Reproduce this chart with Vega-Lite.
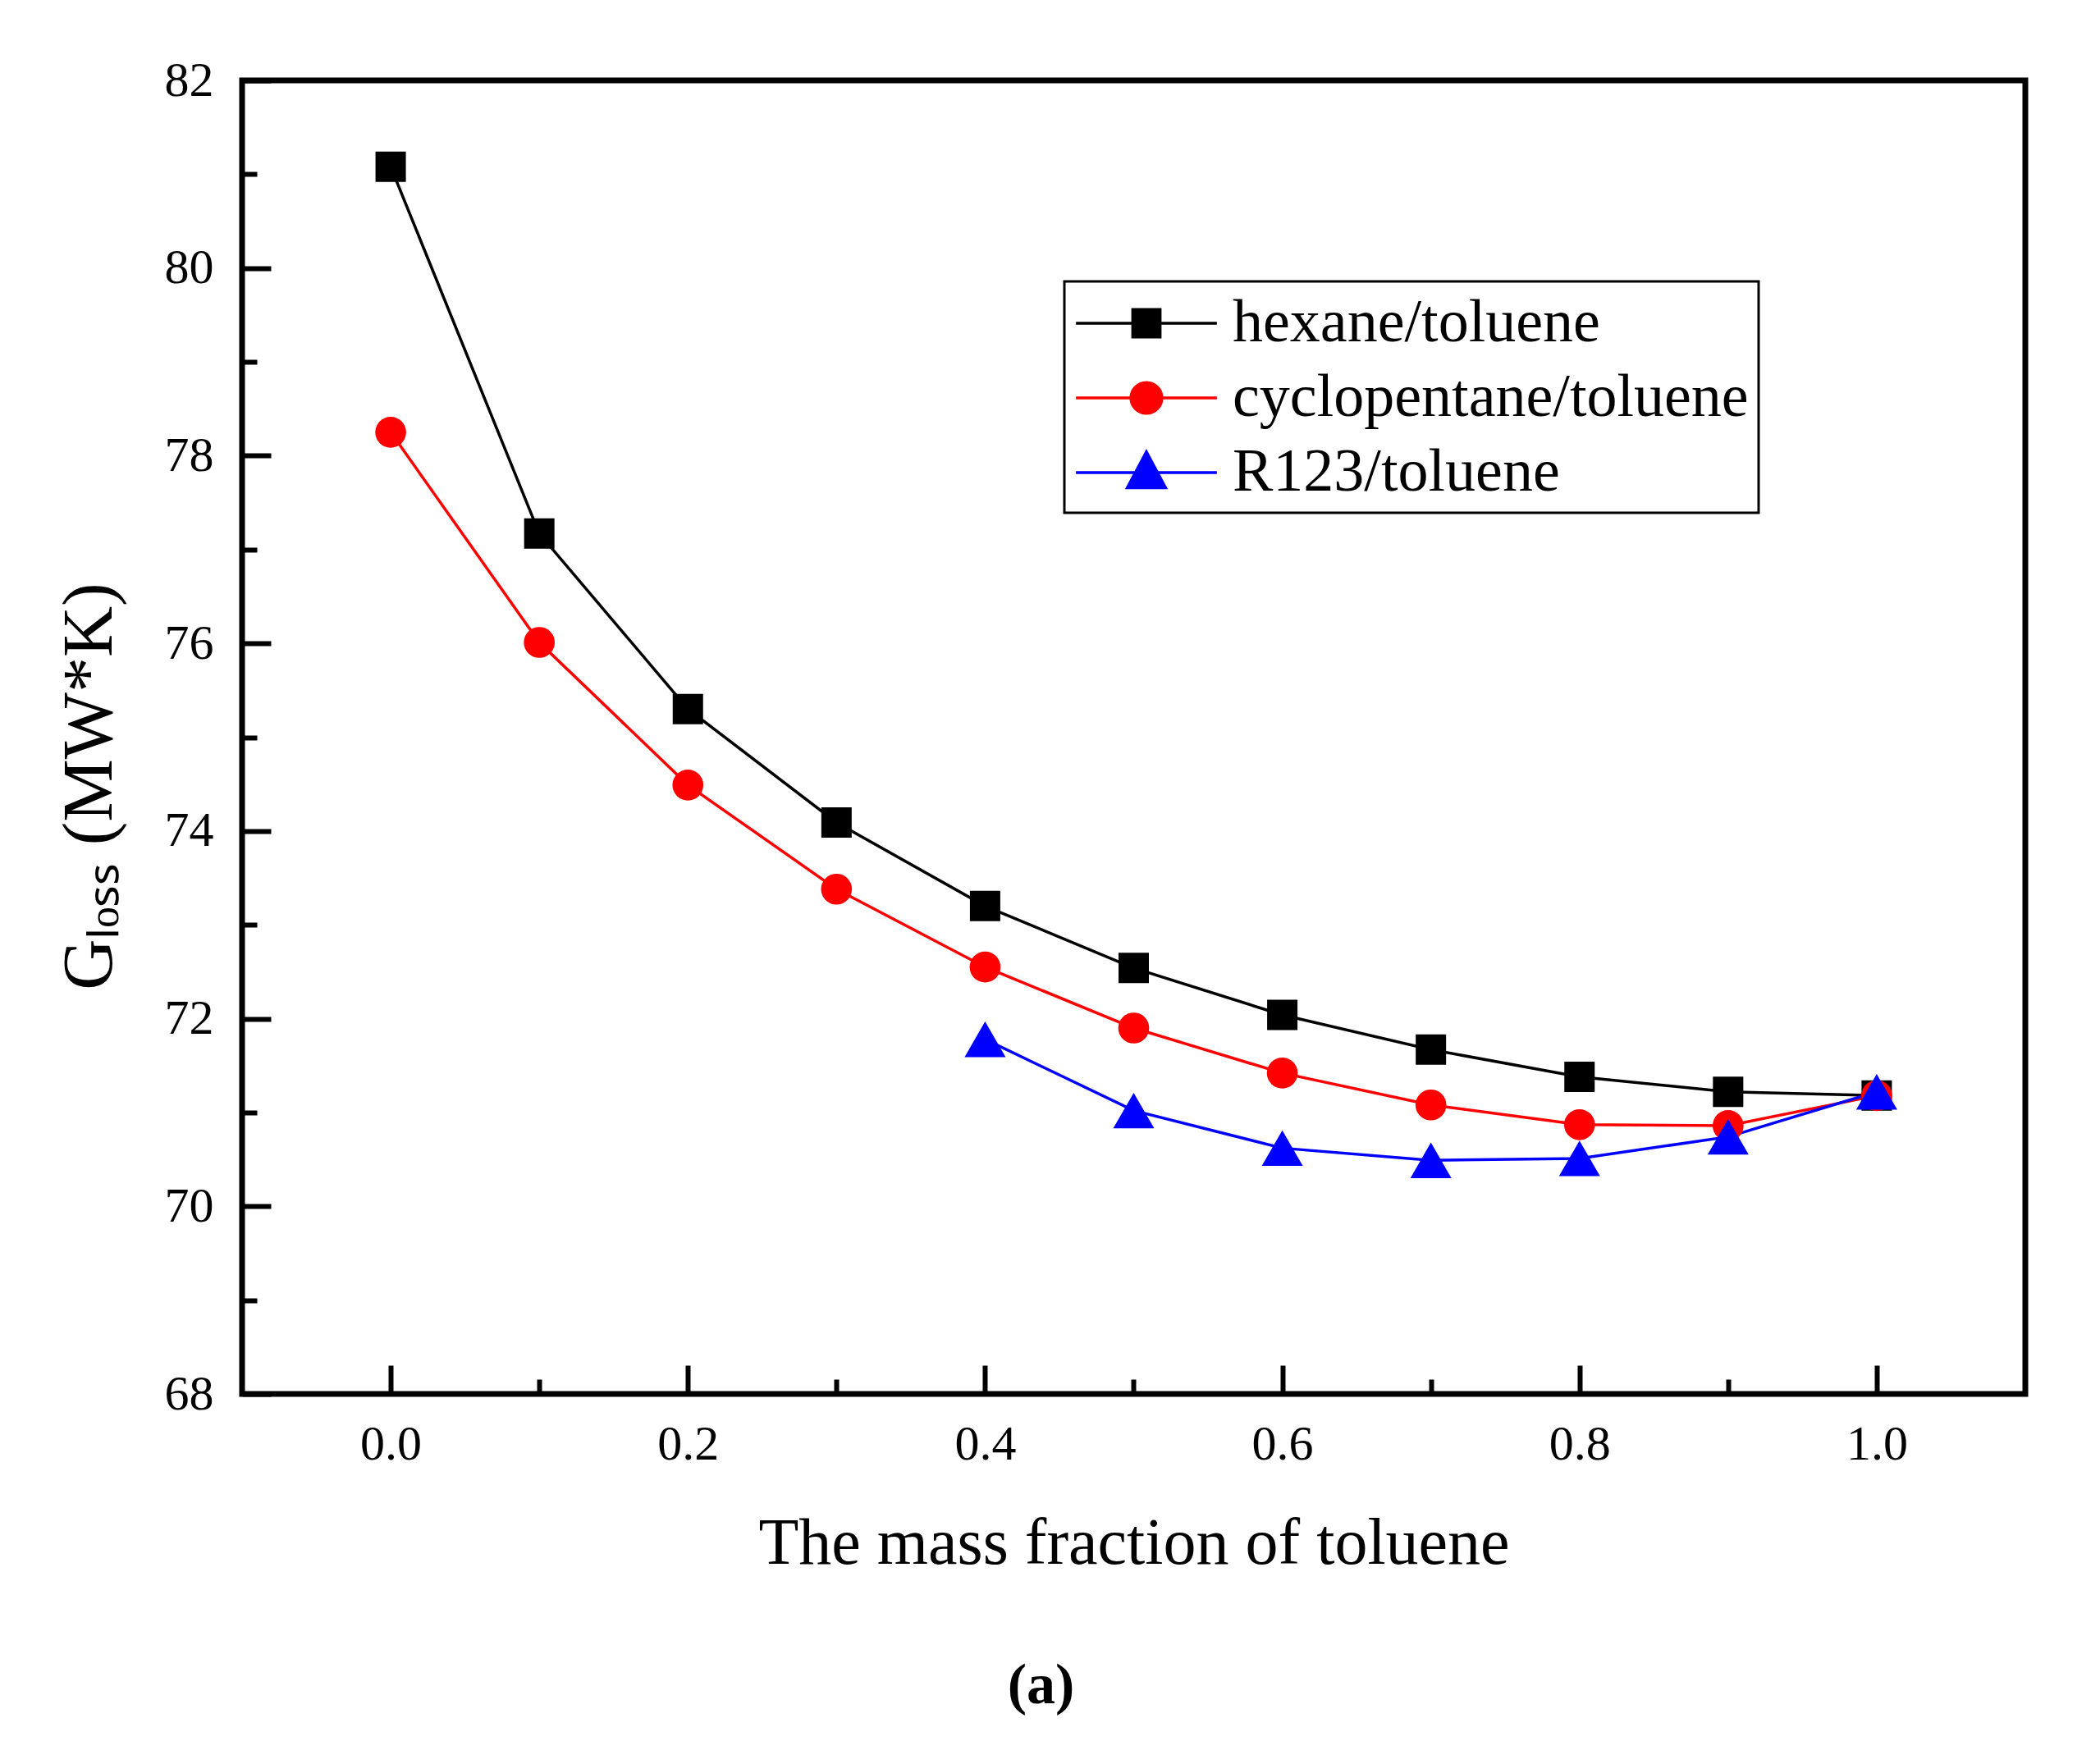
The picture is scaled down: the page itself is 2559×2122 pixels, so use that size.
{
  "$schema": "https://vega.github.io/schema/vega-lite/v6.json",
  "autosize": "none",
  "width": 2173,
  "height": 1601,
  "padding": {"left": 295, "top": 98, "right": 91, "bottom": 423},
  "background": "white",
  "title": {
    "text": "(a)",
    "orient": "bottom",
    "anchor": "middle",
    "font": "Liberation Serif",
    "fontSize": 70,
    "fontWeight": "bold",
    "color": "black",
    "offset": 100,
    "dx": -113
  },
  "data": {
    "values": [
      {"x": 0.0, "y": 81.08, "series": "hexane/toluene"},
      {"x": 0.1, "y": 77.17, "series": "hexane/toluene"},
      {"x": 0.2, "y": 75.30, "series": "hexane/toluene"},
      {"x": 0.3, "y": 74.09, "series": "hexane/toluene"},
      {"x": 0.4, "y": 73.20, "series": "hexane/toluene"},
      {"x": 0.5, "y": 72.54, "series": "hexane/toluene"},
      {"x": 0.6, "y": 72.04, "series": "hexane/toluene"},
      {"x": 0.7, "y": 71.67, "series": "hexane/toluene"},
      {"x": 0.8, "y": 71.38, "series": "hexane/toluene"},
      {"x": 0.9, "y": 71.22, "series": "hexane/toluene"},
      {"x": 1.0, "y": 71.18, "series": "hexane/toluene"},
      {"x": 0.0, "y": 78.25, "series": "cyclopentane/toluene"},
      {"x": 0.1, "y": 76.01, "series": "cyclopentane/toluene"},
      {"x": 0.2, "y": 74.49, "series": "cyclopentane/toluene"},
      {"x": 0.3, "y": 73.38, "series": "cyclopentane/toluene"},
      {"x": 0.4, "y": 72.55, "series": "cyclopentane/toluene"},
      {"x": 0.5, "y": 71.90, "series": "cyclopentane/toluene"},
      {"x": 0.6, "y": 71.42, "series": "cyclopentane/toluene"},
      {"x": 0.7, "y": 71.08, "series": "cyclopentane/toluene"},
      {"x": 0.8, "y": 70.87, "series": "cyclopentane/toluene"},
      {"x": 0.9, "y": 70.86, "series": "cyclopentane/toluene"},
      {"x": 1.0, "y": 71.18, "series": "cyclopentane/toluene"},
      {"x": 0.4, "y": 71.78, "series": "R123/toluene"},
      {"x": 0.5, "y": 71.02, "series": "R123/toluene"},
      {"x": 0.6, "y": 70.62, "series": "R123/toluene"},
      {"x": 0.7, "y": 70.49, "series": "R123/toluene"},
      {"x": 0.8, "y": 70.51, "series": "R123/toluene"},
      {"x": 0.9, "y": 70.74, "series": "R123/toluene"},
      {"x": 1.0, "y": 71.22, "series": "R123/toluene"}
    ]
  },
  "layer": [
    {
      "mark": {"type": "line", "strokeWidth": 3.5},
      "encoding": {
        "x": {
          "field": "x",
          "type": "quantitative",
          "scale": {"domain": [-0.1, 1.1], "nice": false, "zero": false},
          "axis": {
            "orient": "bottom",
            "title": "The mass fraction of toluene",
            "values": [0, 0.2, 0.4, 0.6, 0.8, 1.0],
            "format": ".1f",
            "tickSize": -35,
            "labelPadding": 67,
            "titleY": 206,
            "titleBaseline": "alphabetic"
          }
        },
        "y": {
          "field": "y",
          "type": "quantitative",
          "scale": {"domain": [68, 82], "nice": false, "zero": false},
          "axis": {
            "orient": "left",
            "title": "Gₗₒₛₛ (MW*K)",
            "values": [68, 70, 72, 74, 76, 78, 80, 82],
            "tickSize": -35,
            "labelPadding": 70,
            "titleFontSize": 86,
            "titleX": -160,
            "titleY": 860,
            "titleAngle": 270,
            "titleAlign": "center",
            "titleBaseline": "alphabetic"
          }
        },
        "detail": {"field": "series"},
        "color": {
          "condition": [
            {"test": "datum.series === 'hexane/toluene'", "value": "#000000"},
            {"test": "datum.series === 'cyclopentane/toluene'", "value": "#ff0000"}
          ],
          "value": "#0000ff"
        }
      }
    },
    {
      "mark": {"type": "point", "filled": true, "opacity": 1},
      "encoding": {
        "x": {
          "field": "x",
          "type": "quantitative",
          "axis": {
            "orient": "bottom",
            "title": null,
            "labels": false,
            "values": [0.1, 0.3, 0.5, 0.7, 0.9],
            "tickSize": -18
          }
        },
        "y": {
          "field": "y",
          "type": "quantitative",
          "axis": {
            "orient": "left",
            "title": null,
            "labels": false,
            "values": [69, 71, 73, 75, 77, 79, 81],
            "tickSize": -18
          }
        },
        "color": {
          "condition": [
            {"test": "datum.series === 'hexane/toluene'", "value": "#000000"},
            {"test": "datum.series === 'cyclopentane/toluene'", "value": "#ff0000"}
          ],
          "value": "#0000ff"
        },
        "shape": {
          "condition": [
            {"test": "datum.series === 'hexane/toluene'", "value": "square"},
            {"test": "datum.series === 'cyclopentane/toluene'", "value": "circle"}
          ],
          "value": "triangle-up"
        },
        "size": {
          "condition": [
            {"test": "datum.series === 'hexane/toluene'", "value": 1369},
            {"test": "datum.series === 'cyclopentane/toluene'", "value": 1420}
          ],
          "value": 2500
        }
      }
    },
    {
      "transform": [{"filter": "false"}],
      "mark": {"type": "point", "filled": true},
      "encoding": {
        "fill": {
          "field": "series",
          "type": "nominal",
          "scale": {
            "domain": ["hexane/toluene", "cyclopentane/toluene", "R123/toluene"],
            "range": ["#000000", "#ff0000", "#0000ff"]
          },
          "legend": {"title": null}
        },
        "stroke": {
          "field": "series",
          "type": "nominal",
          "scale": {
            "domain": ["hexane/toluene", "cyclopentane/toluene", "R123/toluene"],
            "range": ["#000000", "#ff0000", "#0000ff"]
          },
          "legend": {"title": null}
        },
        "shape": {
          "field": "series",
          "type": "nominal",
          "scale": {
            "domain": ["hexane/toluene", "cyclopentane/toluene", "R123/toluene"],
            "range": [
              "M-2.32,0H2.32M-0.45,-0.45H0.45V0.45H-0.45Z",
              "M-2.32,0H2.32M0.51,0A0.51,0.51,0,1,1,-0.51,0A0.51,0.51,0,1,1,0.51,0Z",
              "M-2.32,0H2.32M0,-0.68L0.63,0.5L-0.63,0.5Z"
            ]
          },
          "legend": {"title": null}
        }
      }
    }
  ],
  "resolve": {"axis": {"x": "independent", "y": "independent"}},
  "config": {
    "font": "Liberation Serif",
    "view": {"stroke": "black", "strokeWidth": 7},
    "axis": {
      "domain": false,
      "grid": false,
      "tickWidth": 6,
      "tickColor": "black",
      "labelFont": "Liberation Serif",
      "labelFontSize": 60,
      "labelColor": "black",
      "labelOverlap": false,
      "labelFlush": false,
      "labelBound": false,
      "titleFont": "Liberation Serif",
      "titleFontSize": 80,
      "titleFontWeight": "normal",
      "titleColor": "black"
    },
    "legend": {
      "orient": "none",
      "legendX": 1002,
      "legendY": 245,
      "labelFont": "Liberation Serif",
      "labelFontSize": 74,
      "labelColor": "black",
      "labelLimit": 0,
      "symbolSize": 5476,
      "symbolStrokeWidth": 3.5,
      "symbolOpacity": 1,
      "symbolOffset": 49,
      "labelOffset": 66,
      "padding": 12,
      "rowPadding": 15,
      "strokeColor": "black",
      "strokeWidth": 3,
      "fillColor": "white"
    }
  }
}
